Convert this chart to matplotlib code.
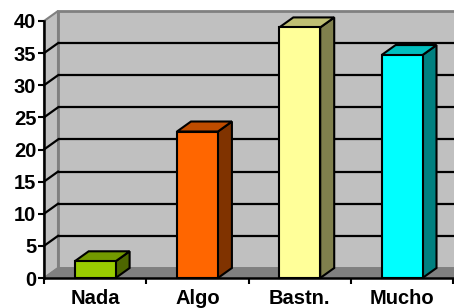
import matplotlib
matplotlib.use("Agg")
import matplotlib.pyplot as plt
from matplotlib.patches import Polygon
from matplotlib.ticker import FixedLocator, NullFormatter

plt.rcParams['font.family'] = ['Liberation Sans', 'DejaVu Sans']

categories = ["Nada", "Algo", "Bastn.", "Mucho"]
values = [2.6, 22.8, 39.0, 34.7]
front_colors = ["#99CC00", "#FF6600", "#FFFF99", "#00FFFF"]
top_colors = ["#739900", "#BF4C00", "#BFBF73", "#00BFBF"]
side_colors = ["#4D6600", "#803300", "#80804D", "#008080"]
yticks = [0, 5, 10, 15, 20, 25, 30, 35, 40]

W, H = 454, 308
fig = plt.figure(figsize=(W / 100, H / 100), dpi=100)
fig.patch.set_facecolor("white")
ax = fig.add_axes([44 / W, 30 / H, 410 / W, 257 / H])
ax.set_facecolor("none")

cat_px = 102.3
x0, x1 = -0.5, -0.5 + 410 / cat_px
ymax = 40
ax.set_xlim(x0, x1)
ax.set_ylim(0, ymax)
dx = 14 / cat_px
dy = 10 / (257 / ymax)

wall = "#C0C0C0"
edge = "#808080"

# back wall
ax.add_patch(Polygon([(x0 + dx, dy), (x1 + dx, dy), (x1 + dx, ymax + dy), (x0 + dx, ymax + dy)],
                     closed=True, facecolor=wall, edgecolor=edge, lw=2, clip_on=False, zorder=1))
# left wall
ax.add_patch(Polygon([(x0, 0), (x0 + dx, dy), (x0 + dx, ymax + dy), (x0, ymax)],
                     closed=True, facecolor=wall, edgecolor=edge, lw=1.5, clip_on=False, zorder=1))
# floor
ax.add_patch(Polygon([(x0, 0), (x1, 0), (x1 + dx, dy), (x0 + dx, dy)],
                     closed=True, facecolor="#808080", edgecolor="#808080", lw=1, clip_on=False, zorder=1))

# gridlines
for v in yticks[1:-1]:
    ax.plot([x0 + dx, x1 + dx], [v + dy, v + dy], color="black", lw=1.6, clip_on=False, zorder=2,
            solid_capstyle="butt")
    ax.plot([x0, x0 + dx], [v, v + dy], color="black", lw=1.6, clip_on=False, zorder=2)

# bars
bw = 0.4
for i, v in enumerate(values):
    l, r = i - bw / 2, i + bw / 2
    front = [(l, 0), (r, 0), (r, v), (l, v)]
    side = [(r, 0), (r + dx, dy), (r + dx, v + dy), (r, v)]
    top = [(l, v), (r, v), (r + dx, v + dy), (l + dx, v + dy)]
    for poly, c in ((side, side_colors[i]), (top, top_colors[i]), (front, front_colors[i])):
        ax.add_patch(Polygon(poly, closed=True, facecolor=c, edgecolor="black", lw=1.5,
                             joinstyle="miter", clip_on=False, zorder=3))

for s in ["top", "right"]:
    ax.spines[s].set_visible(False)
for s in ["left", "bottom"]:
    ax.spines[s].set_color("black")
    ax.spines[s].set_linewidth(1.8)
    ax.spines[s].set_zorder(4)

ax.set_yticks(yticks)
ax.set_yticklabels([str(t) for t in yticks], fontsize=14.5, fontweight="bold")
ax.tick_params(axis="y", direction="out", length=4.5, width=1.5, pad=1, color="black")

ax.set_xticks(range(len(categories)))
ax.set_xticklabels(categories, fontsize=14.5, fontweight="bold")
ax.tick_params(axis="x", which="major", length=0, pad=8)
ax.xaxis.set_minor_locator(FixedLocator([x0 + k for k in range(5)]))
ax.xaxis.set_minor_formatter(NullFormatter())
ax.tick_params(axis="x", which="minor", direction="out", length=4.5, width=1.5, color="black")

fig.savefig("out.png", dpi=100)
